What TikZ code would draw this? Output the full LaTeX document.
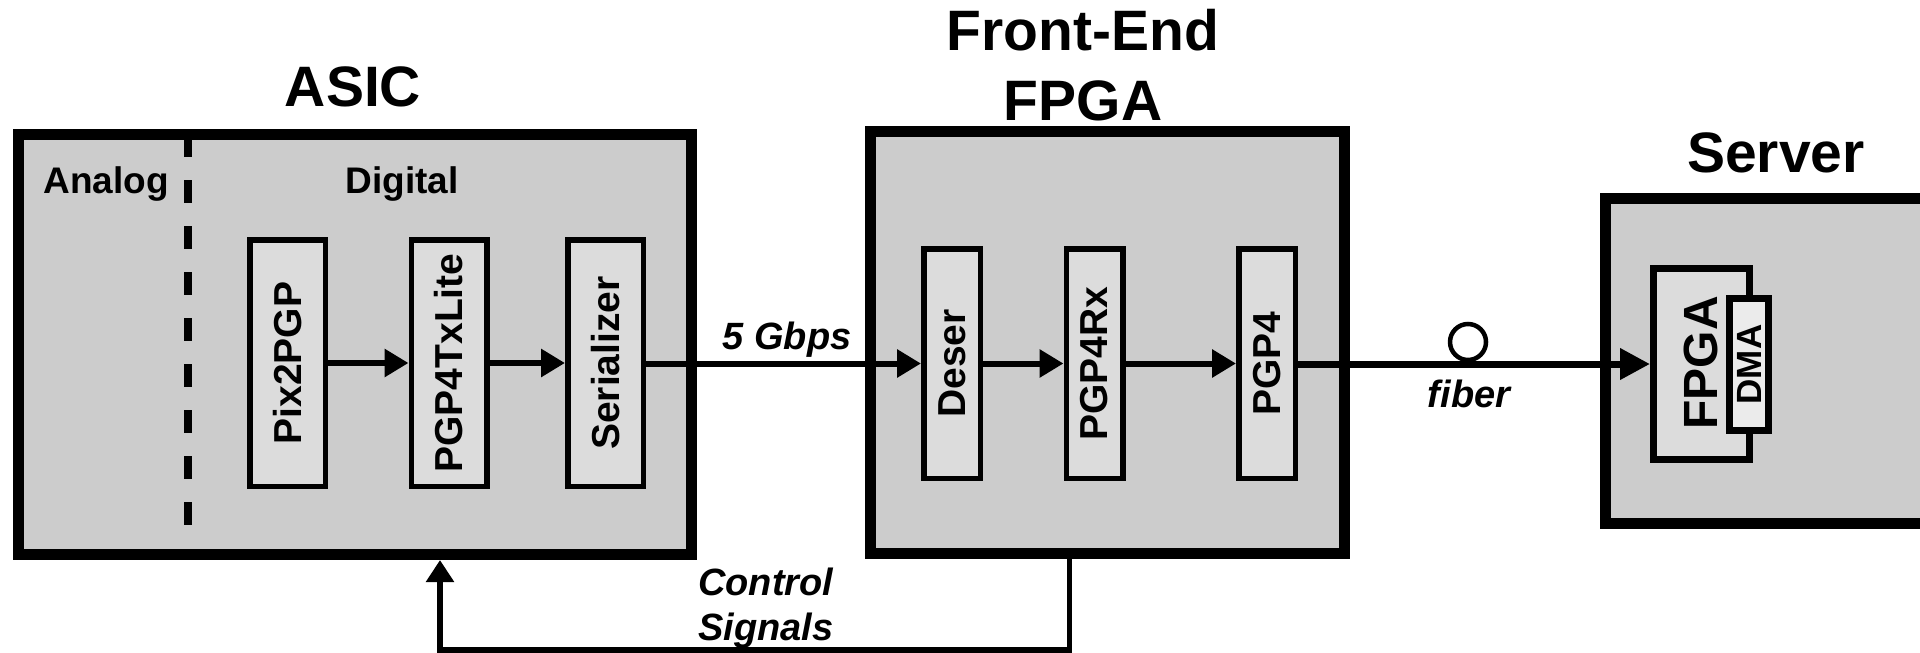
\documentclass[tikz,border=0pt]{standalone}
\usepackage{fontspec}
\setmainfont{Liberation Sans}
\usetikzlibrary{arrows.meta}
\definecolor{outerfill}{HTML}{CCCCCC}
\definecolor{innerfill}{HTML}{DCDCDC}
\definecolor{dmafill}{HTML}{EBEBEB}
\tikzset{
  outerbox/.style={draw=black, fill=outerfill, line width=11pt, inner sep=0pt},
  blockbox/.style={draw=black, fill=innerfill, line width=5.5pt, inner sep=0pt, rotate=90,
    font=\fontsize{39}{45}\selectfont\bfseries},
  titletext/.style={font=\fontsize{57}{70}\selectfont\bfseries, align=center, inner sep=0pt},
  lbltext/.style={font=\fontsize{37}{44}\selectfont\bfseries, inner sep=0pt},
  itltext/.style={font=\fontsize{38}{45}\selectfont\bfseries\itshape, inner sep=0pt},
  flow/.style={line width=6pt, -{Triangle[length=24pt,width=27pt]}},
  fibre/.style={line width=7pt, -{Triangle[length=30pt,width=30pt]}},
  ctrl/.style={line width=5.5pt, -{Triangle[length=22pt,width=27pt]}},
}
\begin{document}
\begin{tikzpicture}[x=1pt,y=-1pt]
\useasboundingbox (0,0) rectangle (1920,653);

% outer boxes
\node[outerbox, minimum width=673pt, minimum height=420pt] (asic) at (355,344.5) {};
\node[outerbox, minimum width=474pt, minimum height=422pt] (fe) at (1107.5,342.5) {};
\node[outerbox, minimum width=349.5pt, minimum height=325pt] (srv) at (1780.25,361) {};

% titles
\node[titletext, anchor=base] (asict) at (353,106) {ASIC};
\node[titletext, anchor=base] (fet) at (1083,120) {Front-End\\FPGA};
\node[titletext, anchor=base] (srvt) at (1776,172) {Server};

% analog / digital
\draw[line width=8pt, dash pattern=on 23pt off 23pt] (187.5,134) coordinate (dtop) -- (187.5,526) coordinate (dbot);
\node[lbltext, anchor=base] (analog) at (106,193) {Analog};
\node[lbltext, anchor=base] (digital) at (402,193) {Digital};

% ASIC blocks
\node[blockbox, minimum width=246.5pt, minimum height=75.5pt] (pix) at (287.5,363) {Pix2PGP};
\node[blockbox, minimum width=246.5pt, minimum height=75.5pt] (txl) at (449,363) {PGP4TxLite};
\node[blockbox, minimum width=246.5pt, minimum height=75.5pt] (ser) at (605.5,363) {Serializer};

% FE blocks
\node[blockbox, minimum width=229.5pt, minimum height=56.5pt] (des) at (952,363.5) {Deser};
\node[blockbox, minimum width=229.5pt, minimum height=56.5pt] (rx) at (1094.5,363.5) {PGP4Rx};
\node[blockbox, minimum width=229.5pt, minimum height=56.5pt] (pgp) at (1267,363.5) {PGP4};

% server FPGA + DMA
\node[draw=black, fill=innerfill, line width=7pt, inner sep=0pt, minimum width=96pt, minimum height=191pt] (sfpga) at (1701.5,364) {};
\node[rotate=90, font=\fontsize{48}{50}\selectfont\bfseries, inner sep=0pt] (sfpgat) at (1701,363) {FPGA};
\node[draw=black, fill=dmafill, line width=7pt, inner sep=0pt, rotate=90, minimum width=132pt, minimum height=39pt,
  font=\fontsize{35}{38}\selectfont\bfseries] (dma) at (1749,364.5) {DMA};

% arrows
\draw[flow] (pix.south |- 0,363) coordinate (a1) -- (txl.north |- a1);
\draw[flow] (txl.south |- 0,363) coordinate (a2) -- (ser.north |- a2);
\draw[flow] (ser.south |- 0,363.5) coordinate (a3) -- (des.north |- a3);
\draw[flow] (des.south |- 0,363.5) coordinate (a4) -- (rx.north |- a4);
\draw[flow] (rx.south |- 0,363.5) coordinate (a5) -- (pgp.north |- a5);
\draw[fibre] (pgp.south |- 0,364) coordinate (a6) -- (sfpga.west |- a6);
\node[draw=black, line width=4.5pt, circle, minimum size=36pt, inner sep=0pt] (loop) at (1468,342) {};

% labels
\node[itltext, anchor=base] (gbps) at (787,349) {5 Gbps};
\node[itltext, anchor=base] (fiber) at (1469,407) {fiber};
\node[itltext, anchor=base west, align=left] (ctrlt) at (698,640) {Control\\Signals};

% control signals
\coordinate (c1) at (1069.5,650);
\coordinate (c2) at (440,650);
\draw[ctrl] (fe.south -| c1) -- (c1) -- (c2) -- (c2 |- asic.south);
\end{tikzpicture}
\end{document}
